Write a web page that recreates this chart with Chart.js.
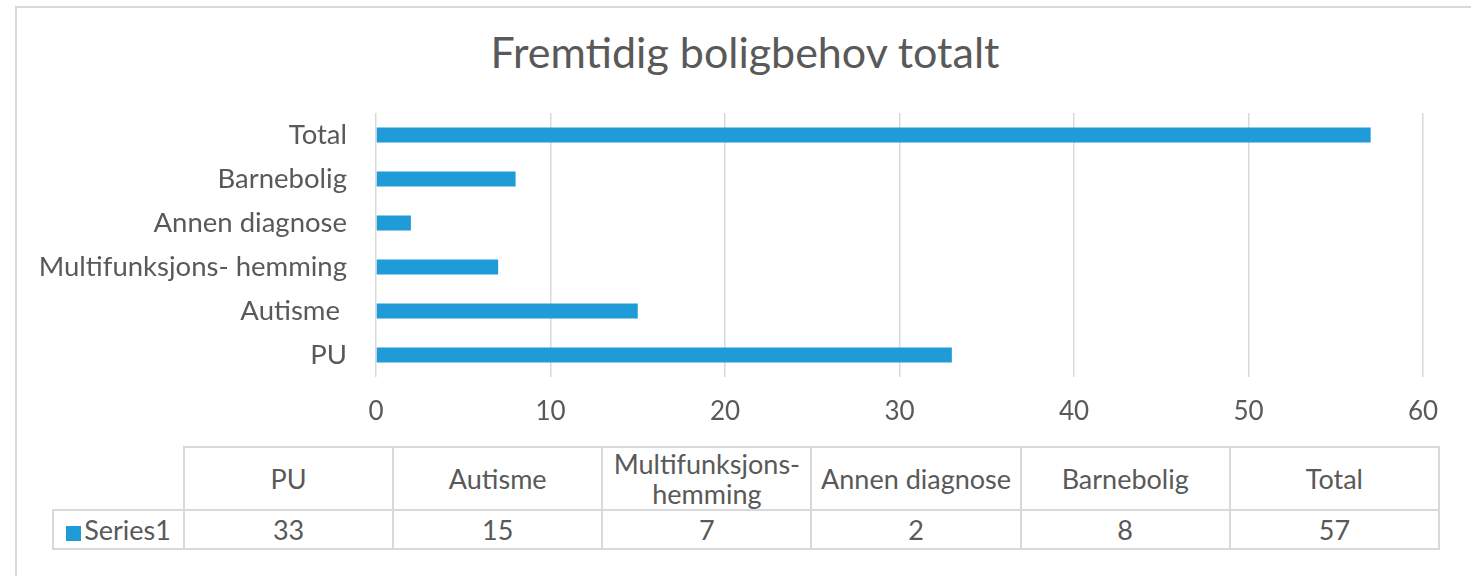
<!DOCTYPE html>
<html>
<head>
<meta charset="utf-8">
<script src="https://cdn.jsdelivr.net/npm/chart.js@4"></script>
<style>
    body { margin: 0; width: 1471px; height: 576px; overflow: hidden; background: #fff; position: relative; font-family: Lato, sans-serif; color: #595959; }
    #frame { position: absolute; left: 15px; top: 6px; width: 1500px; height: 600px; border: 2px solid #d9d9d9; }
    #chart-title { position: absolute; left: 0; top: 27px; width: 1490px; text-align: center; font-size: 43px; line-height: 50px; white-space: nowrap; }
    #chart-box { position: absolute; left: 0; top: 0; width: 1471px; height: 440px; }
    #data-table { position: absolute; left: 52px; top: 446px; width: 1388px; border-collapse: collapse; table-layout: fixed; font-size: 27px; }
    #data-table td { border: 2px solid #d9d9d9; text-align: center; padding: 0 2px; line-height: 30px; overflow: hidden; white-space: normal; }
    #data-table tr.head td { height: 61px; }
    #data-table tr.vals td { height: 37px; }
    #data-table td.corner { border-top: none; border-left: none; }
    #data-table td.legend-cell { white-space: nowrap; }
    .swatch { display: inline-block; width: 15px; height: 15px; background: #1f9cd8; margin-right: 3px; vertical-align: -1px; }
</style>
</head>
<body>
<div id="frame"></div>
<div id="chart-title"></div>
<div id="chart-box"><canvas id="boligChart"></canvas></div>
<table id="data-table">
    <colgroup><col style="width:131px"><col><col><col><col><col><col></colgroup>
</table>
<script>
// Values
const categories = ['PU', 'Autisme ', 'Multifunksjons- hemming', 'Annen diagnose', 'Barnebolig', 'Total'];
const series1 = [33, 15, 7, 2, 8, 57];
const seriesName = 'Series1';
const chartTitle = 'Fremtidig boligbehov totalt';
const xMin = 0;
const xMax = 60;
const xStep = 10;

const barColor = '#1f9cd8';
const textColor = '#595959';

document.getElementById('chart-title').textContent = chartTitle;

// Data table under the chart
function buildTable() {
    const table = document.getElementById('data-table');
    const head = document.createElement('tr');
    head.className = 'head';
    const corner = document.createElement('td');
    corner.className = 'corner';
    head.appendChild(corner);
    categories.forEach(cat => {
        const td = document.createElement('td');
        td.textContent = cat.trim();
        head.appendChild(td);
    });
    table.appendChild(head);

    const row = document.createElement('tr');
    row.className = 'vals';
    const legendCell = document.createElement('td');
    legendCell.className = 'legend-cell';
    legendCell.innerHTML = '<span class="swatch"></span>';
    legendCell.appendChild(document.createTextNode(seriesName));
    row.appendChild(legendCell);
    series1.forEach(v => {
        const td = document.createElement('td');
        td.textContent = v;
        row.appendChild(td);
    });
    table.appendChild(row);
}
buildTable();

const ctx = document.getElementById('boligChart').getContext('2d');
new Chart(ctx, {
    type: 'bar',
    data: {
        labels: categories,
        datasets: [{
            label: seriesName,
            data: series1,
            backgroundColor: barColor,
            categoryPercentage: 1,
            barPercentage: 0.34,
        }]
    },
    options: {
        indexAxis: 'y',
        responsive: true,
        maintainAspectRatio: false,
        animation: false,
        layout: {
            padding: { left: 0, right: 48, top: 113, bottom: 15 }
        },
        plugins: {
            legend: { display: false },
            tooltip: { enabled: false },
            title: { display: false }
        },
        scales: {
            x: {
                min: xMin,
                max: xMax,
                afterFit: scale => { scale.height = 48; },
                ticks: {
                    stepSize: xStep,
                    color: textColor,
                    padding: 19,
                    font: { family: 'Lato', size: 26 }
                },
                grid: { color: '#d9d9d9', lineWidth: 1.5, drawTicks: false },
                border: { display: false }
            },
            y: {
                reverse: true,
                afterFit: scale => { scale.width = 376; },
                ticks: {
                    color: textColor,
                    padding: 29,
                    font: { family: 'Lato', size: 27.5 }
                },
                grid: { display: false, drawTicks: false },
                border: { display: false }
            }
        }
    }
});
</script>
</body>
</html>
